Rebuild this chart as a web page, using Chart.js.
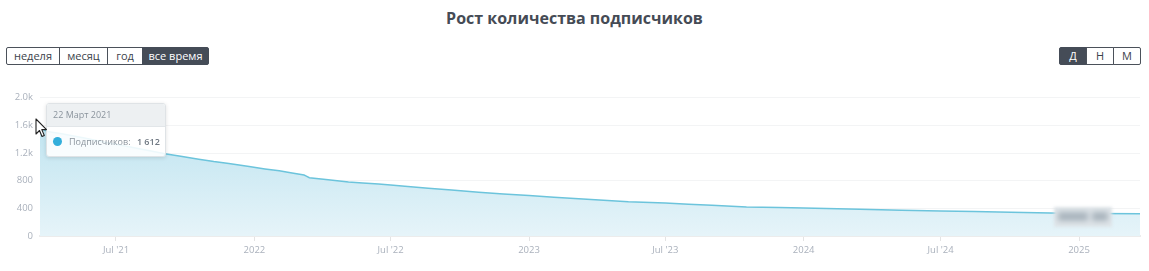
<!DOCTYPE html>
<html lang="ru">
<head>
<meta charset="utf-8">
<title>Рост количества подписчиков</title>
<script src="https://cdn.jsdelivr.net/npm/chart.js@4.4.1/dist/chart.umd.min.js"></script>
<style>
  html, body { margin: 0; padding: 0; background: #fff; }
  body { width: 1149px; height: 271px; position: relative; overflow: hidden; font-family: "Open Sans", "Noto Sans", sans-serif; }
  h1 { position: absolute; left: 0; width: 1149px; top: 7px; margin: 0; text-align: center; font-size: 16px; font-weight: 700; color: #454b55; }
  .btns { position: absolute; top: 47px; display: flex; height: 18px; }
  .btns span { display: block; box-sizing: border-box; height: 18px; line-height: 16px; border: 1px solid #4b515a; margin-left: -1px; text-align: center; font-size: 11px; color: #3c424b; background: #fff; }
  .btns span:first-child { margin-left: 0; border-radius: 2px 0 0 2px; }
  .btns span:last-child { border-radius: 0 2px 2px 0; }
  .btns span.on { background: #454c57; color: #fff; border-color: #454c57; }
  #period { left: 6px; }
  #scale { left: 1059px; }
  #wrap { position: absolute; left: 0; top: 85px; width: 1149px; height: 186px; }
  #tip { position: absolute; display: none; width: 120px; box-sizing: border-box; border: 1px solid #dfe3e6; border-radius: 3px; box-shadow: 0 1px 4px rgba(0,0,0,0.12); overflow: hidden; font-size: 9px; }
  #tip .hd { height: 22px; line-height: 22px; padding-left: 6px; background: rgba(236,239,241,0.93); color: #8b949d; border-bottom: 1px solid #e2e6e9; }
  #tip .bd { height: 29px; line-height: 29px; padding-left: 6px; background: rgba(255,255,255,0.88); color: #8b949d; white-space: nowrap; }
  #tip .dot { display: inline-block; width: 9px; height: 9px; border-radius: 50%; background: #33aedb; vertical-align: -1px; margin-right: 7px; }
  #tip b { color: #6f7882; font-weight: 600; margin-left: 4px; }
  #cursor { position: absolute; left: 35px; top: 118px; }
  #blur { position: absolute; left: 1054px; top: 207px; width: 58px; height: 20px; background: #dfe5e9; filter: blur(1.5px); }
  #blur i { position: absolute; top: 5px; height: 9px; background: #a9b4bd; filter: blur(2.5px); }
</style>
</head>
<body>
<h1>Рост количества подписчиков</h1>
<div class="btns" id="period">
  <span style="width:54px">неделя</span><span style="width:49px">месяц</span><span style="width:36px">год</span><span class="on" style="width:67px">все время</span>
</div>
<div class="btns" id="scale">
  <span class="on" style="width:28px">Д</span><span style="width:28px">Н</span><span style="width:28px">М</span>
</div>
<div id="wrap"><canvas id="chart"></canvas></div>
<div id="tip"></div>
<div id="blur"><i style="left:4px;width:30px"></i><i style="left:38px;width:16px"></i></div>
<svg id="cursor" width="14" height="20" viewBox="0 0 14 20">
  <path d="M1 1 L1 16 L4.5 12.5 L7 18.5 L9.3 17.5 L6.8 11.6 L11.5 11.6 Z" fill="#fff" stroke="#222" stroke-width="1.1" stroke-linejoin="round"/>
</svg>
<script>
// subscriber counts
const dates = [
  '2021-03-22', '2021-03-26', '2021-04-01', '2021-04-20', '2021-05-20', '2021-06-20',
  '2021-07-20', '2021-08-15', '2021-09-04', '2021-09-25', '2021-10-19', '2021-11-08',
  '2021-11-28', '2021-12-25', '2022-01-15', '2022-02-03', '2022-02-20', '2022-03-08',
  '2022-03-11', '2022-03-15', '2022-04-09', '2022-05-06', '2022-05-25', '2022-06-15',
  '2022-07-01', '2022-07-20', '2022-08-20', '2022-09-20', '2022-10-26', '2022-11-28',
  '2023-01-01', '2023-02-03', '2023-03-08', '2023-04-10', '2023-05-13', '2023-07-01',
  '2023-08-01', '2023-09-01', '2023-10-17', '2023-11-29', '2024-01-01', '2024-03-16',
  '2024-05-10', '2024-07-01', '2024-08-15', '2024-10-02', '2024-11-24', '2025-01-20',
  '2025-03-23'
];
const subscribers = [
  1612, 1545, 1510, 1478, 1418, 1348,
  1286, 1232, 1190, 1152, 1110, 1076,
  1047, 1004, 970, 943, 910, 881,
  866, 843, 814, 782, 767, 752,
  738, 720, 690, 664, 633, 607,
  586, 562, 538, 517, 495, 476,
  460, 443, 419, 412, 405, 386,
  374, 362, 353, 343, 333, 327,
  321
];
const tickDates = ['2021-07-01', '2022-01-01', '2022-07-01', '2023-01-01', '2023-07-01', '2024-01-01', '2024-07-01', '2025-01-01'];
const tickLabels = ["Jul '21", '2022', "Jul '22", '2023', "Jul '23", '2024', "Jul '24", '2025'];
const yTicks = [0, 400, 800, 1200, 1600, 2000];
const monthNames = ['Январь', 'Февраль', 'Март', 'Апрель', 'Май', 'Июнь', 'Июль', 'Август', 'Сентябрь', 'Октябрь', 'Ноябрь', 'Декабрь'];

const colors = {
    line: '#6cc4dc',
    fillTop: '#b6e0ee',
    fillBottom: '#e6f4f9',
    tick: '#aab1bc',
    grid: '#f3f4f5',
    axis: '#ececec'
};

const points = dates.map((d, i) => ({ x: Date.parse(d), y: subscribers[i] }));
const tickValues = tickDates.map(d => Date.parse(d));

function fmtNum(n) {
    return String(n).replace(/\B(?=(\d{3})+(?!\d))/g, ' ');
}

function fmtDate(ms) {
    const d = new Date(ms);
    return d.getUTCDate() + ' ' + monthNames[d.getUTCMonth()] + ' ' + d.getUTCFullYear();
}

// html tooltip with a grey header, like the original widget
function externalTip(context) {
    const tip = document.getElementById('tip');
    const model = context.tooltip;
    if (!model || model.opacity === 0 || !model.dataPoints || !model.dataPoints.length) {
        tip.style.display = 'none';
        return;
    }
    const dp = model.dataPoints[0];
    tip.innerHTML = '<div class="hd">' + fmtDate(dp.parsed.x) + '</div>' +
        '<div class="bd"><span class="dot"></span>Подписчиков: <b>' + fmtNum(dp.parsed.y) + '</b></div>';
    const wrap = document.getElementById('wrap');
    tip.style.left = (wrap.offsetLeft + model.caretX + 6) + 'px';
    tip.style.top = (wrap.offsetTop + model.caretY - 22) + 'px';
    tip.style.display = 'block';
}

const tickFont = { family: '"Open Sans", "Noto Sans", sans-serif', size: 9.5 };

const chart = new Chart(document.getElementById('chart'), {
    type: 'line',
    data: {
        datasets: [{
            label: 'Подписчиков',
            data: points,
            borderColor: colors.line,
            borderWidth: 1.5,
            pointRadius: 0,
            pointHoverRadius: 0,
            tension: 0,
            fill: 'origin',
            backgroundColor: (ctx) => {
                const area = ctx.chart.chartArea;
                if (!area) return colors.fillTop;
                const g = ctx.chart.ctx.createLinearGradient(0, area.top, 0, area.bottom);
                g.addColorStop(0, colors.fillTop);
                g.addColorStop(1, colors.fillBottom);
                return g;
            }
        }]
    },
    options: {
        responsive: true,
        maintainAspectRatio: false,
        animation: false,
        events: [],
        layout: { padding: { top: 10, right: 9, left: 0, bottom: 0 } },
        plugins: {
            legend: { display: false },
            tooltip: { enabled: false, external: externalTip, mode: 'index', intersect: false }
        },
        scales: {
            x: {
                type: 'linear',
                bounds: 'data',
                min: points[0].x,
                max: points[points.length - 1].x,
                afterBuildTicks: (scale) => { scale.ticks = tickValues.map(v => ({ value: v })); },
                afterFit: (scale) => { scale.height = 35; },
                grid: { drawOnChartArea: false, drawTicks: true, tickLength: 5, color: '#e4e4e4', lineWidth: 1 },
                border: { color: colors.axis, width: 2 },
                ticks: {
                    autoSkip: false,
                    maxRotation: 0,
                    padding: 4,
                    color: colors.tick,
                    font: tickFont,
                    callback: (v) => {
                        const i = tickValues.indexOf(v);
                        return i >= 0 ? tickLabels[i] : '';
                    }
                }
            },
            y: {
                min: 0,
                max: 2000,
                afterBuildTicks: (scale) => { scale.ticks = yTicks.map(v => ({ value: v })); },
                afterFit: (scale) => { scale.width = 40; },
                grid: { color: colors.grid, drawTicks: false },
                border: { display: false },
                ticks: {
                    padding: 7,
                    color: colors.tick,
                    font: tickFont,
                    callback: (v) => v >= 1000 ? (v / 1000).toFixed(1) + 'k' : String(v)
                }
            }
        }
    }
});

// reference shows the hover state on the first day
const first = chart.getDatasetMeta(0).data[0];
chart.tooltip.setActiveElements([{ datasetIndex: 0, index: 0 }], { x: first.x, y: first.y });
chart.update();
</script>
</body>
</html>
